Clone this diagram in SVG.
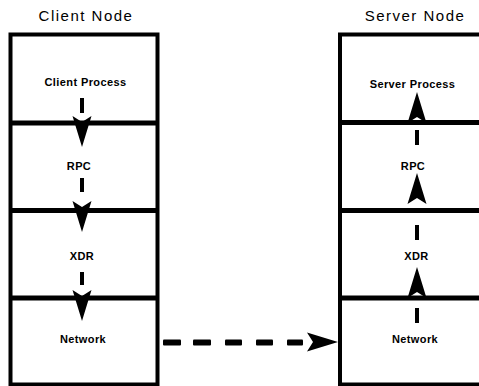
<svg xmlns="http://www.w3.org/2000/svg" width="479" height="386" viewBox="0 0 479 386">
  <style>
    .frame { fill: #fff; stroke: #000; stroke-width: 4; }
    .divider { stroke: #000; stroke-width: 5; }
    .title { font-family: "Liberation Sans", Arial, sans-serif; font-size: 15px; letter-spacing: 1.5px; fill: #000; text-anchor: middle; }
    .layer { font-family: "Liberation Sans", Arial, sans-serif; font-size: 11px; font-weight: bold; letter-spacing: 0.4px; fill: #000; text-anchor: middle; }
    .dash { fill: #000; }
  </style>
  <defs>
    <!-- notched dart arrowhead, tip at origin, pointing right -->
    <path id="head" d="M0,0 L-31,-9.5 L-25,0 L-31,9.5 Z" fill="#000"/>
  </defs>

  <rect width="479" height="386" fill="#fff"/>

  <!-- Client node stack -->
  <g id="client-node">
    <text class="title" x="86" y="21">Client Node</text>
    <rect class="frame" x="10.5" y="34.5" width="147" height="350"/>
    <line class="divider" x1="10" y1="123" x2="158" y2="123"/>
    <line class="divider" x1="10" y1="210.5" x2="158" y2="210.5"/>
    <line class="divider" x1="10" y1="298" x2="158" y2="298"/>
    <g id="client-process"><text class="layer" x="85.5" y="86">Client Process</text></g>
    <g id="client-rpc"><text class="layer" x="79" y="170">RPC</text></g>
    <g id="client-xdr"><text class="layer" x="82" y="260">XDR</text></g>
    <g id="client-network"><text class="layer" x="83" y="343">Network</text></g>
  </g>

  <!-- Server node stack (runs past the right edge) -->
  <g id="server-node">
    <text class="title" x="415" y="21">Server Node</text>
    <rect class="frame" x="340" y="34.5" width="147" height="350"/>
    <line class="divider" x1="340" y1="122.5" x2="490" y2="122.5"/>
    <line class="divider" x1="340" y1="210.5" x2="490" y2="210.5"/>
    <line class="divider" x1="340" y1="298" x2="490" y2="298"/>
    <g id="server-process"><text class="layer" x="412.5" y="88">Server Process</text></g>
    <g id="server-rpc"><text class="layer" x="413" y="170">RPC</text></g>
    <g id="server-xdr"><text class="layer" x="416.5" y="260">XDR</text></g>
    <g id="server-network"><text class="layer" x="415" y="343">Network</text></g>
  </g>

  <g id="connectors">
    <!-- client: down through the layers -->
    <rect class="dash" x="80" y="98" width="4" height="15"/>
    <use href="#head" transform="translate(82,147) rotate(90)"/>
    <rect class="dash" x="80" y="178" width="4" height="14"/>
    <use href="#head" transform="translate(82,232) rotate(90)"/>
    <rect class="dash" x="80" y="272" width="4" height="13"/>
    <use href="#head" transform="translate(82,321) rotate(90)"/>

    <!-- network link: client to server -->
    <rect class="dash" x="163" y="339.5" width="18" height="6" rx="1"/>
    <rect class="dash" x="193" y="339.5" width="18" height="6" rx="1"/>
    <rect class="dash" x="225" y="339.5" width="17" height="6" rx="1"/>
    <rect class="dash" x="256" y="339.5" width="17" height="6" rx="1"/>
    <rect class="dash" x="287" y="339.5" width="16" height="6" rx="1"/>
    <use href="#head" transform="translate(338,342)"/>

    <!-- server: up through the layers -->
    <rect class="dash" x="415" y="308" width="4" height="15"/>
    <use href="#head" transform="translate(417,267) rotate(-90)"/>
    <rect class="dash" x="415" y="225" width="4" height="15"/>
    <use href="#head" transform="translate(417,173) rotate(-90)"/>
    <rect class="dash" x="415" y="130" width="4" height="15"/>
    <use href="#head" transform="translate(417,92) rotate(-90)"/>
  </g>
</svg>
